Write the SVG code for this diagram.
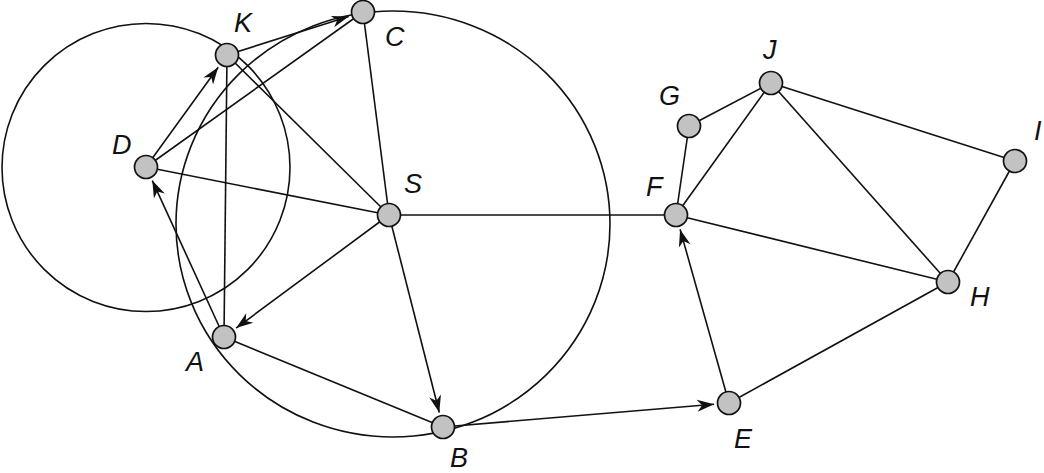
<svg xmlns="http://www.w3.org/2000/svg" width="1044" height="473" viewBox="0 0 1044 473">
<style>
.rng{fill:none;stroke:#111;stroke-width:1.6}
.e{fill:none;stroke:#111;stroke-width:1.6}
.a{marker-end:url(#arr)}
.n{fill:#c2c2c2;stroke:#111;stroke-width:1.7}
.l{font-family:"Liberation Sans",Arial,sans-serif;font-style:italic;font-size:27px;fill:#111}
</style>
<defs>
<marker id="arr" viewBox="-18 -7 19 14" markerWidth="19" markerHeight="14" markerUnits="userSpaceOnUse" refX="0" refY="0" orient="auto">
<path d="M0,0 L-17,-6 L-12,0 L-17,6 Z" fill="#111"/>
</marker>
</defs>
<g id="ranges">
<circle class="rng" cx="146" cy="167.5" r="144"/>
<ellipse class="rng" cx="393" cy="224" rx="217" ry="213"/>
</g>
<g id="connectors">
<line class="e a" x1="146" y1="167" x2="218.2" y2="67.2"/>
<line class="e" x1="146" y1="167" x2="363" y2="12"/>
<line class="e a" x1="227" y1="55" x2="348.7" y2="16.5"/>
<line class="e" x1="227" y1="55" x2="224" y2="337"/>
<line class="e" x1="227" y1="55" x2="389" y2="215"/>
<line class="e" x1="146" y1="167" x2="389" y2="215"/>
<line class="e" x1="363" y1="12" x2="389" y2="215"/>
<line class="e a" x1="389" y1="215" x2="236.1" y2="328.1"/>
<line class="e a" x1="389" y1="215" x2="439.3" y2="412.5"/>
<line class="e a" x1="224" y1="337" x2="152.3" y2="180.6"/>
<line class="e" x1="224" y1="337" x2="443" y2="427"/>
<line class="e" x1="389" y1="215" x2="676" y2="215"/>
<line class="e a" x1="443" y1="427" x2="714.1" y2="404.3"/>
<line class="e a" x1="729" y1="403" x2="680.1" y2="229.4"/>
<line class="e" x1="729" y1="403" x2="948" y2="282"/>
<line class="e" x1="676" y1="215" x2="689" y2="126"/>
<line class="e" x1="676" y1="215" x2="771" y2="83"/>
<line class="e" x1="676" y1="215" x2="948" y2="282"/>
<line class="e" x1="689" y1="126" x2="771" y2="83"/>
<line class="e" x1="771" y1="83" x2="948" y2="282"/>
<line class="e" x1="771" y1="83" x2="1015" y2="161"/>
<line class="e" x1="1015" y1="161" x2="948" y2="282"/>
</g>
<g id="node-K"><circle class="n" cx="227" cy="55" r="11.5"/><text class="l" x="234" y="32">K</text></g>
<g id="node-C"><circle class="n" cx="363" cy="12" r="11.5"/><text class="l" x="385" y="46">C</text></g>
<g id="node-D"><circle class="n" cx="146" cy="167" r="11.5"/><text class="l" x="112" y="154">D</text></g>
<g id="node-S"><circle class="n" cx="389" cy="215" r="11.5"/><text class="l" x="404" y="193">S</text></g>
<g id="node-A"><circle class="n" cx="224" cy="337" r="11.5"/><text class="l" x="186" y="371">A</text></g>
<g id="node-B"><circle class="n" cx="443" cy="427" r="11.5"/><text class="l" x="450" y="467">B</text></g>
<g id="node-F"><circle class="n" cx="676" cy="215" r="11.5"/><text class="l" x="646" y="196">F</text></g>
<g id="node-G"><circle class="n" cx="689" cy="126" r="11.5"/><text class="l" x="659" y="105">G</text></g>
<g id="node-J"><circle class="n" cx="771" cy="83" r="11.5"/><text class="l" x="763" y="59">J</text></g>
<g id="node-I"><circle class="n" cx="1015" cy="161" r="11.5"/><text class="l" x="1034" y="140">I</text></g>
<g id="node-H"><circle class="n" cx="948" cy="282" r="11.5"/><text class="l" x="970" y="306">H</text></g>
<g id="node-E"><circle class="n" cx="729" cy="403" r="11.5"/><text class="l" x="734" y="448">E</text></g>
</svg>
